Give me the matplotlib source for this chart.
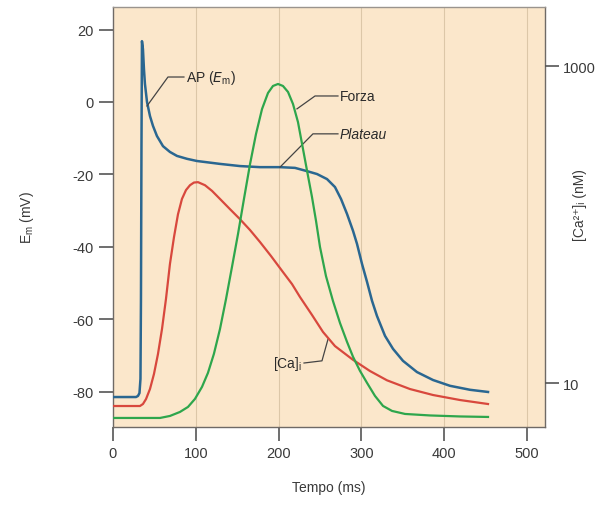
import numpy as np
import matplotlib.pyplot as plt

plt.rcParams['font.family'] = ['Liberation Sans', 'DejaVu Sans']
plt.rcParams['axes.unicode_minus'] = False

# action potential (mV)
ap_t = [0, 27.8, 30.2, 32.0, 33.2, 33.8, 34.4, 35.0, 36.2, 37.4, 38.6, 41.1, 44.7, 48.3,
        53.1, 60.4, 68.8, 77.3, 89.4, 101.4, 129.2, 153.4, 177.5, 201.7, 219.8, 234.3,
        246.4, 258.5, 268.1, 275.4, 282.6, 289.9, 294.7, 300.7, 306.8, 312.8, 318.8,
        328.5, 338.2, 350.2, 367.1, 386.5, 407.0, 431.2, 452.9]
ap_v = [-81.5, -81.5, -81.2, -80.4, -76.5, -54.4, -13.0, 16.8, 14.6, 9.1, 5.0, 0, -3.9,
        -6.6, -9.4, -12.2, -13.8, -14.9, -15.7, -16.3, -17.1, -17.7, -18.0, -18.0, -18.2,
        -19.1, -19.9, -21.3, -23.5, -26.8, -30.9, -35.6, -39.2, -44.7, -49.7, -54.9,
        -59.1, -64.6, -68.2, -71.5, -74.6, -76.8, -78.4, -79.5, -80.1]

# intracellular calcium (nM)
ca_t = [0, 32.6, 36.2, 39.9, 44.7, 49.5, 54.3, 59.2, 64.0, 68.8, 73.7, 78.5, 83.3, 88.2,
        93.0, 97.8, 102.7, 111.1, 119.6, 129.2, 141.3, 153.4, 165.5, 177.5, 190.8, 205.3,
        216.2, 225.8, 240.3, 253.6, 268.1, 289.9, 310.4, 330.9, 358.7, 386.5, 419.1, 452.9]
ca_c = [7.16, 7.16, 7.37, 7.92, 9.17, 11.4, 15.2, 21.9, 33.9, 56.4, 83.4, 116, 145, 165,
        177, 184, 185, 177, 163, 145, 125, 108, 92.3, 77.6, 63.3, 50.1, 42.1, 34.9, 26.9,
        21.0, 17.1, 14.0, 11.9, 10.4, 9.16, 8.40, 7.81, 7.37]

# force (% of peak)
f_t = [0, 56.8, 68.8, 80.9, 90.6, 99.0, 107.5, 114.7, 121.9, 129.2, 136.5, 143.7, 151.0,
       158.2, 165.5, 172.7, 180.0, 187.2, 193.2, 199.3, 205.3, 211.4, 217.4, 223.4, 229.5,
       235.5, 240.3, 245.2, 250.0, 257.2, 265.7, 274.2, 282.6, 289.9, 298.3, 306.8, 316.4,
       326.1, 337.0, 352.7, 382.9, 419.1, 452.9]
f_v = [0, 0, 0.6, 1.8, 3.3, 5.7, 9.3, 13.5, 19.2, 26.6, 35.6, 45.2, 55.1, 65.6, 76.0,
       85.0, 92.5, 97.3, 99.4, 100, 99.4, 97.6, 94.0, 88.6, 80.5, 72.5, 66.2, 59.0, 51.2,
       42.5, 35.0, 28.4, 22.8, 18.3, 14.1, 10.5, 6.6, 3.6, 2.1, 1.2, 0.75, 0.45, 0.3]

bg = '#fbe7cb'
blue = '#2a6791'
red = '#d8483d'
green = '#2ea64c'
spine_c = '#6f6a66'

fig = plt.figure(figsize=(6.14, 5.06), dpi=100)
ax = fig.add_axes([0.184, 0.1542, 0.7036, 0.83])
ax.set_facecolor(bg)
ax.set_xlim(0, 521.7)
ax.set_ylim(-89.77, 26.24)
ax.set_xticks([0, 100, 200, 300, 400, 500])
ax.set_yticks([20, 0, -20, -40, -60, -80])
for xv in [100, 200, 300, 400, 500]:
    ax.axvline(xv, color='#dcc7a8', lw=0.8, zorder=0)
ax.tick_params(direction='out', length=10, width=1.2, color='#555555', labelsize=10.5,
               labelcolor='#3a3a3a', pad=4)
for s in ax.spines.values():
    s.set_color(spine_c)
    s.set_linewidth(1.0)
ax.spines['top'].set_color('#9a948e')
ax.set_xlabel('Tempo (ms)', fontsize=10, color='#3a3a3a', labelpad=14)
ax.set_ylabel(r'E$_\mathregular{m}$ (mV)', fontsize=10, color='#3a3a3a')
ax.yaxis.set_label_coords(-0.178, 0.5)

# calcium on log scale
axc = ax.twinx()
axc.set_yscale('log')
axc.set_ylim(5.28, 2357)
axc.set_yticks([10, 1000])
axc.set_yticklabels(['10', '1000'])
axc.yaxis.set_minor_locator(plt.NullLocator())
axc.tick_params(direction='out', length=10, width=1.2, color='#555555', labelsize=10.5,
                labelcolor='#3a3a3a', pad=3)
for s in axc.spines.values():
    s.set_visible(False)
axc.set_ylabel('[Ca²⁺]ᵢ (nM)', fontsize=10, color='#3a3a3a')
axc.yaxis.set_label_coords(1.065, 0.53)

# force on its own hidden scale
axf = ax.twinx()
axf.set_ylim(-2.7, 123.05)
axf.axis('off')

axf.plot(f_t, f_v, color=green, lw=1.6, zorder=3)
axc.plot(ca_t, ca_c, color=red, lw=1.6, zorder=3)
ax.plot(ap_t, ap_v, color=blue, lw=1.8, zorder=4)
ax.set_zorder(0)
axc.set_zorder(1)
axf.set_zorder(2)
axc.patch.set_visible(False)
axf.patch.set_visible(False)

# annotations
lc = '#444444'
ax.plot([41.1, 66.4, 85.7], [-1.1, 6.9, 6.9], color=lc, lw=0.9, zorder=5)
ax.text(88, 6.9, r'AP ($E_\mathregular{m}$)', fontsize=10, va='center', color='#2a2a2a')
ax.plot([222.2, 244, 271.7], [-1.9, 1.66, 1.66], color=lc, lw=0.9, zorder=5)
ax.text(274, 1.66, 'Forza', fontsize=10, va='center', color='#2a2a2a')
ax.plot([201.7, 241.5, 271.7], [-18.0, -8.8, -8.8], color=lc, lw=0.9, zorder=5)
ax.text(274, -8.8, 'Plateau', fontsize=10, va='center', style='italic', color='#2a2a2a')
ax.plot([259.7, 252.4, 230.7], [-65.5, -71.5, -72.1], color=lc, lw=0.9, zorder=5)
ax.text(229, -72.1, r'[Ca]$_\mathregular{i}$', fontsize=10, va='center', ha='right',
        color='#2a2a2a')

fig.savefig('out.png', dpi=100, facecolor='white')
